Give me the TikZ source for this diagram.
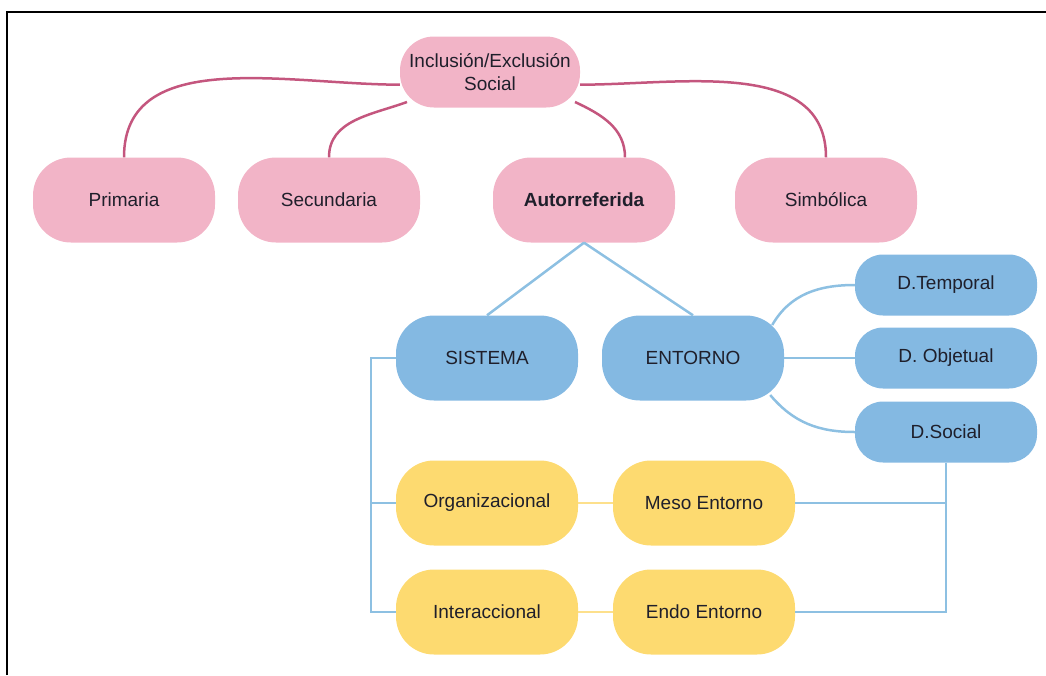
\documentclass[tikz,border=0pt]{standalone}
\usepackage{fontspec}
\setmainfont{Liberation Sans}
\usetikzlibrary{positioning}

\definecolor{pinkfill}{HTML}{F2B4C7}
\definecolor{pinkline}{HTML}{C4567E}
\definecolor{bluefill}{HTML}{84B9E2}
\definecolor{blueline}{HTML}{8DC0E2}
\definecolor{yellowfill}{HTML}{FDDA70}
\definecolor{yellowline}{HTML}{FDE08C}
\definecolor{textdark}{HTML}{1F1F2B}

\begin{document}
\begin{tikzpicture}[x=1pt,y=-1pt,
    box/.style={rectangle, rounded corners=38pt, minimum width=182pt,
        minimum height=85pt, inner sep=0pt, text=textdark,
        font=\fontsize{19}{23}\selectfont},
    pinkbox/.style={box, fill=pinkfill},
    bluebox/.style={box, fill=bluefill},
    yellowbox/.style={box, fill=yellowfill},
    dbox/.style={box, fill=bluefill, minimum height=61pt, rounded corners=28pt},
    pinkedge/.style={draw=pinkline, line width=2.5pt},
    blueedge/.style={draw=blueline, line width=2.5pt},
    yellowedge/.style={draw=yellowline, line width=2.5pt}]

        \useasboundingbox (0,0) rectangle (1046,675);
        \draw[line width=2pt] (7,675) -- (7,12) -- (1046,12);

        % top row
        \node[pinkbox, minimum width=180pt, minimum height=71pt,
            rounded corners=34pt, align=center] (incl) at (490,72)
            {Inclusión/Exclusión\\Social};
        \node[pinkbox] (prim) at (124,200) {Primaria};
        \node[pinkbox] (secu) at (329,200) {Secundaria};
        \node[pinkbox, font=\fontsize{19}{23}\selectfont\bfseries]
            (autor) at (584,200) {Autorreferida};
        \node[pinkbox] (simb) at (826,200) {Simbólica};

        % blue nodes
        \node[bluebox] (sist) at (487,358) {SISTEMA};
        \node[bluebox] (ento) at (693,358) {ENTORNO};
        \node[dbox] (dtem) at (946,285) {D.Temporal};
        \node[dbox] (dobj) at (946,358) {D. Objetual};
        \node[dbox] (dsoc) at (946,432) {D.Social};

        % yellow nodes
        \node[yellowbox] (orga) at (487,503) {Organizacional};
        \node[yellowbox] (meso) at (704,503) {Meso Entorno};
        \node[yellowbox] (inte) at (487,612) {Interaccional};
        \node[yellowbox] (endo) at (704,612) {Endo Entorno};

        % pink connectors
        \draw[pinkedge] (incl.188) to[out=180, in=90] (prim.north);
        \draw[pinkedge] ([shift={(-83,30)}]incl.center) to[out=200, in=90] (secu.north);
        \draw[pinkedge] ([shift={(85,30)}]incl.center) to[out=-25, in=90] ([xshift=41pt]autor.north);
        \draw[pinkedge] (incl.-8) to[out=0, in=90] (simb.north);

        % blue connectors
        \draw[blueedge] (autor.south) -- (sist.north);
        \draw[blueedge] (autor.south) -- (ento.north);
        \draw[blueedge] ([shift={(-12,-33)}]ento.east) to[out=60, in=180] (dtem.west);
        \draw[blueedge] (ento.east) -- (dobj.west);
        \draw[blueedge] ([shift={(-14,37)}]ento.east) to[out=-50, in=180] (dsoc.west);
        \draw[blueedge] (sist.west) -- ++(-25,0) |- (inte.west);
        \draw[blueedge] (orga.west) -- ++(-25,0);
        \draw[blueedge] (dsoc.south) |- (endo.east);
        \draw[blueedge] (meso.east) -- (meso.east -| dsoc.south);

        % yellow connectors
        \draw[yellowedge] (orga.east) -- (meso.west);
        \draw[yellowedge] (inte.east) -- (endo.west);

    \end{tikzpicture}
\end{document}
